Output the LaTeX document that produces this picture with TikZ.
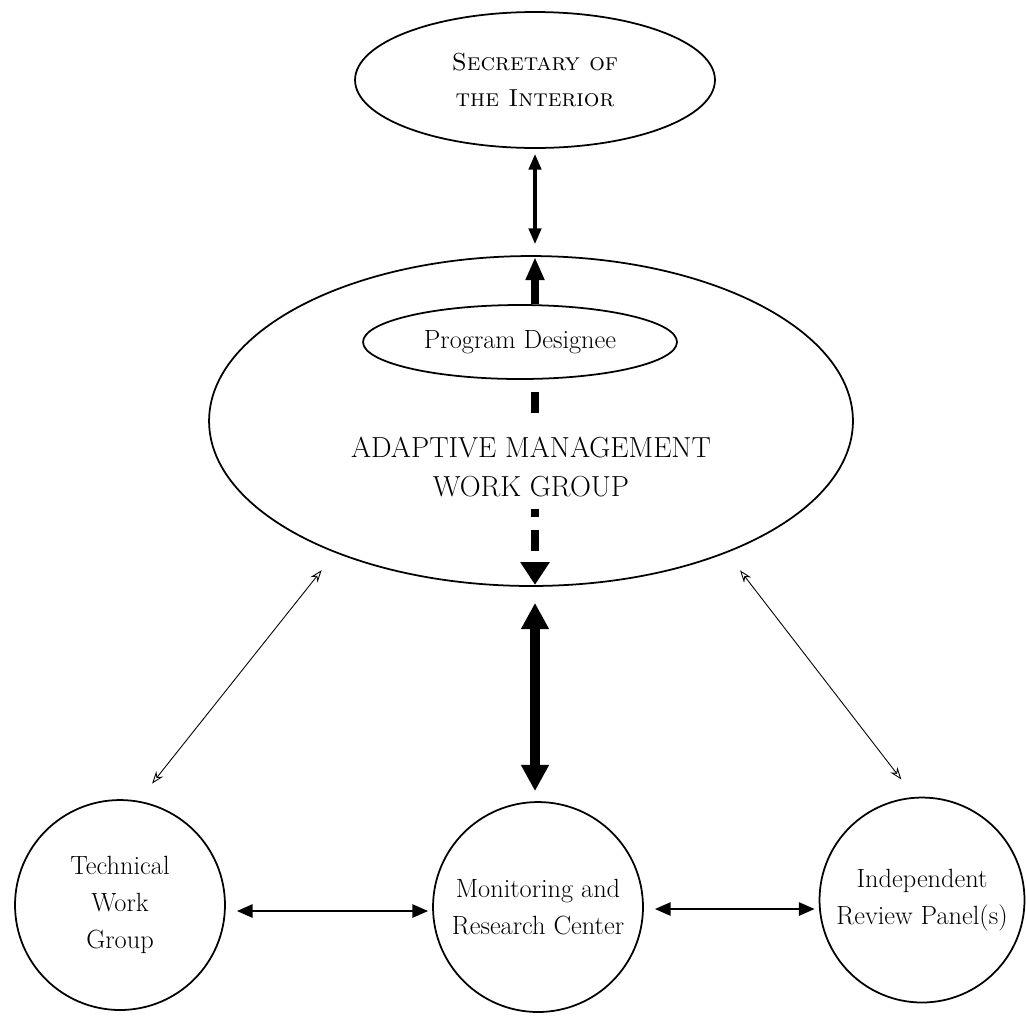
\documentclass[tikz,border=0pt]{standalone}
\usepackage{amsmath}
\usetikzlibrary{shapes.geometric,arrows.meta,calc}

\tikzset{
  unit/.style={ellipse, draw, line width=1pt, inner sep=0pt, align=center,
    font=\fontsize{15}{21}\selectfont},
  circ/.style={circle, draw, line width=1pt, inner sep=0pt, align=center,
    font=\fontsize{15}{21}\selectfont},
  secarrow/.style={line width=2pt, {Triangle[length=9pt,width=7pt]}-{Triangle[length=9pt,width=7pt]}},
  pdarrow/.style={line width=5pt, -{Triangle[length=13pt,width=10pt]}},
  dasharrow/.style={line width=5pt, dash pattern=on 12pt off 7.7pt, -{Triangle[length=13pt,width=16pt]}},
  bigarrow/.style={line width=6pt, {Triangle[length=15pt,width=15pt]}-{Triangle[length=15pt,width=15pt]}},
  sidearrow/.style={line width=1.3pt, {Triangle[length=9pt,width=7.5pt]}-{Triangle[length=9pt,width=7.5pt]}},
  thinarrow/.style={line width=0.5pt, {Stealth[open,length=7pt,width=5pt]}-{Stealth[open,length=7pt,width=5pt]}}
}

\begin{document}
\begin{tikzpicture}[x=0.02cm,y=-0.02cm]
\useasboundingbox (0,0) rectangle (1026,1015);
\node[unit, minimum width=7.2cm, minimum height=2.72cm, font=\fontsize{14}{21}\selectfont] (sec) at (535,80)
  {\textsc{Secretary of}\\\textsc{the Interior}};
\node[unit, minimum width=12.88cm, minimum height=6.6cm] (amwg) at (531,421) {};
\node[unit, minimum width=6.28cm, minimum height=1.48cm] (pd) at (520,342) {Program Designee};
\node[circ, minimum size=4.2cm] (twg) at (120,905) {Technical\\Work\\Group};
\node[circ, minimum size=4.2cm] (mrc) at (538,907) {Monitoring and\\Research Center};
\node[circ, minimum size=4.1cm] (irp) at (922,900) {Independent\\Review Panel(s)};

\draw[secarrow, shorten <=0.1cm, shorten >=0.22cm] (sec.south) -- (sec.south |- amwg.north);
\draw[pdarrow, shorten >=0.04cm] (sec.south |- pd.north) -- (sec.south |- amwg.north);
\draw[dasharrow, shorten <=0.24cm, shorten >=0.04cm] (sec.south |- pd.south) -- (sec.south |- amwg.south);
\node[fill=white, inner xsep=2pt, inner ysep=7pt, align=center, font=\fontsize{16.5}{22}\selectfont] (amwglabel)
  at (531,467) {ADAPTIVE MANAGEMENT\\WORK GROUP};

\draw[bigarrow, shorten <=0.32cm, shorten >=0.2cm] (sec.south |- amwg.south) -- (sec.south |- mrc.north);
\draw[thinarrow, shorten <=0.44cm, shorten >=0.44cm] (amwg.214) -- (twg.80);
\draw[thinarrow, shorten <=0.44cm, shorten >=0.44cm] (amwg.326) -- (irp.94);
\draw[sidearrow, shorten <=0.22cm, shorten >=0.08cm] ([yshift=-0.12cm]twg.east) -- ([yshift=-0.12cm]twg.east -| mrc.west);
\draw[sidearrow, shorten <=0.22cm, shorten >=0.08cm] ([yshift=-0.04cm]mrc.east) -- ([yshift=-0.04cm]mrc.east -| irp.west);
\end{tikzpicture}
\end{document}
